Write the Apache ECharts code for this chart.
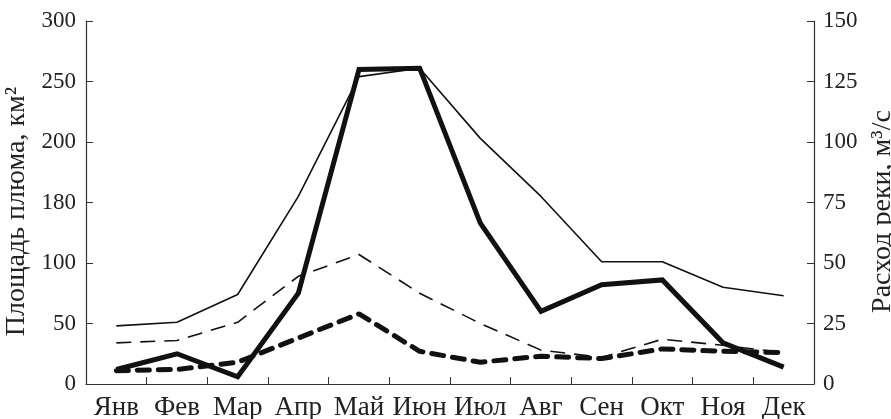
<!DOCTYPE html>
<html>
<head>
<meta charset="utf-8">
<script src="https://cdn.jsdelivr.net/npm/echarts@6/dist/echarts.min.js"></script>
<style>
html,body{margin:0;padding:0;background:#fff;}
#chart{width:891px;height:419px;}
</style>
</head>
<body>
<div id="chart"></div>
<script>
var months = ['Янв','Фев','Мар','Апр','Май','Июн','Июл','Авг','Сен','Окт','Ноя','Дек'];
var leftTickLabels = {0:'0',50:'50',100:'100',150:'180',200:'200',250:'250',300:'300'};
var rightTickLabels = ['0','25','50','75','100','125','150'];
// values in left-axis units (км²)
var thinSolid  = [48, 51, 74, 155, 254, 261, 203, 155, 101, 101, 80, 73];
var thickSolid = [12, 25, 6, 75, 260, 261, 133, 60, 82, 86, 34, 14];
var thinDashed = [34, 36, 51, 89, 107, 75, 50, 28, 22, 37, 32, 26];
var thickDashed= [11, 12, 18, 38, 58, 27, 18, 23, 21, 29, 27, 26];

var font = '"Liberation Serif", "Times New Roman", serif';
var axisCol = '#333';
var lineCol = '#111';
var textCol = '#222';

var chart = echarts.init(document.getElementById('chart'));
chart.setOption({
  animation: false,
  backgroundColor: '#fff',
  grid: {left: 86, right: 77, top: 21, bottom: 35, containLabel: false, outerBoundsMode: 'none'},
  xAxis: {
    type: 'category',
    data: months,
    boundaryGap: true,
    axisLine: {show: true, lineStyle: {color: axisCol, width: 1.2}},
    axisTick: {show: true, inside: true, length: 7, alignWithLabel: false, lineStyle: {color: axisCol}},
    axisLabel: {color: textCol, fontFamily: font, fontSize: 27, margin: 10, interval: 0},
    splitLine: {show: false}
  },
  yAxis: [{
    type: 'value', min: 0, max: 300, interval: 50, position: 'left',
    name: 'Площадь плюма, км²', nameLocation: 'middle', nameGap: 50, nameRotate: 90,
    nameTextStyle: {color: textCol, fontFamily: font, fontSize: 28, padding: [0, 18, 0, 0]},
    axisLine: {show: true, lineStyle: {color: axisCol, width: 1.2}},
    axisTick: {show: true, inside: true, length: 7, lineStyle: {color: axisCol}},
    axisLabel: {color: textCol, fontFamily: font, fontSize: 23, margin: 10,
      formatter: function (v) { return leftTickLabels[v]; }},
    splitLine: {show: false}
  }, {
    type: 'value', min: 0, max: 150, interval: 25, position: 'right',
    name: 'Расход реки, м³/с', nameLocation: 'middle', nameGap: 51, nameRotate: 90,
    nameTextStyle: {color: textCol, fontFamily: font, fontSize: 28, padding: [0, 18, 0, 0]},
    axisLine: {show: true, lineStyle: {color: axisCol, width: 1.2}},
    axisTick: {show: true, inside: true, length: 7, lineStyle: {color: axisCol}},
    axisLabel: {color: textCol, fontFamily: font, fontSize: 23, margin: 9,
      formatter: function (v) { return rightTickLabels[v / 25]; }},
    splitLine: {show: false}
  }],
  series: [{
    type: 'line', data: thinSolid, symbol: 'none',
    lineStyle: {color: lineCol, width: 1.6}
  }, {
    type: 'line', data: thickSolid, symbol: 'none',
    lineStyle: {color: lineCol, width: 5, join: 'miter'}
  }, {
    type: 'line', data: thinDashed, symbol: 'none',
    lineStyle: {color: lineCol, width: 1.6, type: [15, 9]}
  }, {
    type: 'line', data: thickDashed, symbol: 'none',
    lineStyle: {color: lineCol, width: 5, type: [12, 9], cap: 'round'}
  }]
});
</script>
</body>
</html>
